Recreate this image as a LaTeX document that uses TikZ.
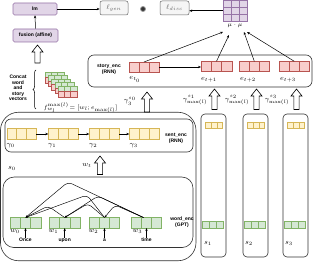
\documentclass[tikz,border=0pt]{standalone}
\usepackage{fontspec}
\usepackage{amsmath}
\newfontfamily\labfont{Liberation Sans}
\usetikzlibrary{calc,arrows.meta,decorations.pathreplacing}
\definecolor{purF}{HTML}{E1D5E7}\definecolor{purD}{HTML}{9673A6}
\definecolor{grayF}{HTML}{F5F5F5}\definecolor{grayD}{HTML}{666666}
\definecolor{redF}{HTML}{F8CECC}\definecolor{redD}{HTML}{B85450}
\definecolor{yelF}{HTML}{FFF2CC}\definecolor{yelD}{HTML}{D6B656}
\definecolor{grnF}{HTML}{D5E8D4}\definecolor{grnD}{HTML}{82B366}
\definecolor{lineD}{HTML}{333333}
% three-cell strip: name, centre, width, height, fill, draw
\newcommand\trio[6]{%
  \node[draw=#6, fill=#5, line width=0.5pt, minimum width=#3pt, minimum height=#4pt, inner sep=0, outer sep=0] (#1) at (#2) {};
  \draw[#6, line width=0.5pt] ($(#1.north west)!1/3!(#1.north east)$) -- ($(#1.south west)!1/3!(#1.south east)$)
    ($(#1.north west)!2/3!(#1.north east)$) -- ($(#1.south west)!2/3!(#1.south east)$);
}
% hollow block arrow pointing up, from #1 (bottom) to #2 (tip)
\newcommand\blockup[2]{%
  \draw[hollowarr] let \p1=(#1), \p2=(#2) in
   (\x1-2.6pt,\y1) -- (\x1-2.6pt,\y2-7pt) -- (\x1-5.5pt,\y2-7pt) -- (\x1,\y2) -- (\x1+5.5pt,\y2-7pt) -- (\x1+2.6pt,\y2-7pt) -- (\x1+2.6pt,\y1) -- cycle;
}
\begin{document}
\begin{tikzpicture}[x=1pt,y=-1pt,
  lab/.style={font=\labfont\bfseries\fontsize{5}{6}\selectfont, align=center, inner sep=0},
  mlab/.style={font=\fontsize{6.8}{7}\selectfont, inner sep=0},
  cont/.style={draw=lineD, line width=0.6pt, fill=white, inner sep=0},
  arr/.style={draw=black, line width=0.5pt, -{Stealth[length=3pt,width=2.4pt]}},
  attn/.style={draw=black, line width=0.45pt, rounded corners=4pt, -{Stealth[length=2.5pt,width=2.2pt]}},
  hollowarr/.style={draw=black, line width=0.6pt, fill=white},
  lossbox/.style={draw=grayD, fill=grayF, rounded corners=2pt, line width=0.5pt, minimum width=28pt, minimum height=14pt, inner sep=0, font=\fontsize{6.8}{7}\selectfont},
  purbox/.style={draw=purD, fill=purF, rounded corners=1.5pt, line width=0.6pt, inner sep=0, font=\labfont\bfseries\fontsize{5}{6}\selectfont},
  wtext/.style={lab, text height=3.6pt, text depth=0.8pt},
]
\useasboundingbox (0,0) rectangle (314,262);

% ---------- top row ----------
\node[purbox, minimum width=44pt, minimum height=12pt] (lm) at (35,9) {lm};
\node[purbox, minimum width=45pt, minimum height=13pt] (fusion) at (35.5,35.5) {fusion (affine)};
\node[lossbox] (lgen) at (114,8) {\color{grayD}$\ell_{gen}$};
\node[circle, fill=black!80, draw=black!40, line width=0.8pt, minimum size=5pt, inner sep=0] (dot) at (143,9) {};
\node[lossbox, minimum width=29pt] (ldisc) at (174.5,8) {\color{grayD}$\ell_{disc}$};
\node[draw=purD, fill=purF, line width=0.5pt, minimum width=24pt, minimum height=20.5pt, inner sep=0] (mumat) at (235,10.75) {};
\draw[purD, line width=0.5pt]
  ($(mumat.north west)!1/3!(mumat.north east)$) -- ($(mumat.south west)!1/3!(mumat.south east)$)
  ($(mumat.north west)!2/3!(mumat.north east)$) -- ($(mumat.south west)!2/3!(mumat.south east)$)
  ($(mumat.north west)!1/3!(mumat.south west)$) -- ($(mumat.north east)!1/3!(mumat.south east)$)
  ($(mumat.north west)!2/3!(mumat.south west)$) -- ($(mumat.north east)!2/3!(mumat.south east)$);
\node[mlab, font=\fontsize{6}{7}\selectfont] (mulab) at (235,26) {$\mu\cdot\mu$};

\draw[arr] (fusion.north) -- (lm.south);
\draw[arr] (lm.east) -- (lm.east -| lgen.west);
\draw[arr] (mumat.west) -- (mumat.west -| ldisc.east);

% ---------- concat stack ----------
\node[lab] (concat) at (18,88) {Concat\\[-0.5pt]word\\[-0.5pt]and\\[-0.5pt]story\\[-0.5pt]vectors};
\coordinate (brb) at (36,109);
\coordinate (brt) at (36,70);
\draw[decorate, decoration={brace, amplitude=3pt}, line width=0.5pt] (brb) -- (brt);
\foreach \i in {0,...,4} {
  \pgfmathsetmacro\tx{45+3.25*\i+9.5}
  \pgfmathsetmacro\ty{72+3.5*\i}
  \trio{tg\i}{\tx,\ty+2.75}{19}{5.5}{grnF}{grnD}
  \trio{tr\i}{\tx,\ty+8.25}{19}{5.5}{redF}{redD}
}
\node[mlab, anchor=west, font=\fontsize{6}{7}\selectfont] (formula) at (43.5,107.5) {$f^{\max(l)}_{w_l}\! = [w_l; e_{\max(l)}]$};
\coordinate (fab) at (37.5,63);
\coordinate (fat) at (37.5,45);
\blockup{fab}{fat}

% ---------- story encoder ----------
\node[cont, rounded corners=6pt, minimum width=224pt, minimum height=32pt] (storybox) at (200,71) {};
\node[lab] (storylab) at (109,69.5) {story\_enc\\(RNN)};
\trio{e0}{144,67}{30}{10}{redF}{redD}
\trio{e1}{216.5,66.5}{31}{10.5}{redF}{redD}
\trio{e2}{254.3,66.5}{30}{10.5}{redF}{redD}
\trio{e3}{294.2,66.5}{29.7}{10.5}{redF}{redD}
\node[mlab] (e0lab) at (135,79.5) {$e_{t_0}$};
\node[mlab, anchor=west] (e1lab) at (201,79.5) {$e_{t+1}$};
\node[mlab, anchor=west] (e2lab) at (240,79.5) {$e_{t+2}$};
\node[mlab, anchor=west] (e3lab) at (280,79.5) {$e_{t+3}$};
\draw[arr] (e0.east) -- (e0.east -| e1.west);
\draw[arr] (e0.north) -- ([shift={(-12,6)}]mulab.center);
\draw[arr] (e1.north) -- ([shift={(-6,9)}]mulab.center);
\draw[arr] (e2.north) -- ([shift={(9,6)}]mulab.center);
\draw[arr] (e3.north) -- ([shift={(12,6)}]mulab.center);

% ---------- sentence s0 ----------
\node[cont, rounded corners=18pt, minimum width=195.5pt, minimum height=148.5pt] (s0box) at (98.25,186.5) {};
\node[cont, rounded corners=6pt, minimum width=188pt, minimum height=33pt] (sentbox) at (99,135.5) {};
\node[cont, rounded corners=11pt, minimum width=190pt, minimum height=70.5pt] (wordbox) at (98,212.3) {};

\trio{yb0}{21.5,134}{29.5}{11.5}{yelF}{yelD}
\trio{yb1}{63.3,134}{30}{11.5}{yelF}{yelD}
\trio{yb2}{104.3,134}{30}{11.5}{yelF}{yelD}
\trio{yb3}{144.3,134}{30}{11.5}{yelF}{yelD}
\draw[arr] (yb0.east) -- (yb1.west);
\draw[arr] (yb1.east) -- (yb2.west);
\draw[arr] (yb2.east) -- (yb3.west);
\node[mlab, anchor=west] (g0lab) at (6.5,145.5) {$\gamma_0$};
\node[mlab, anchor=west] (g1lab) at (48,145.5) {$\gamma_1$};
\node[mlab, anchor=west] (g2lab) at (89,145.5) {$\gamma_2$};
\node[mlab, anchor=west] (g3lab) at (129.5,145.5) {$\gamma_3$};
\node[lab] (sentlab) at (176,138) {sent\_enc\\(RNN)};

\node[mlab] (s0lab) at (12,168) {$s_0$};
\node[mlab] (wtlab) at (87,165) {$w_t$};
\coordinate (wab) at (100,174.5);
\coordinate (wat) at (100,156);
\blockup{wab}{wat}

\trio{wb0}{25.5,222.8}{30.7}{10.5}{grnF}{grnD}
\trio{wb1}{64.7,222.8}{30.7}{10.5}{grnF}{grnD}
\trio{wb2}{104.5,222.8}{30}{10.5}{grnF}{grnD}
\trio{wb3}{146.5,222.8}{30}{10.5}{grnF}{grnD}
\node[lab] (wenclab) at (182,222) {word\_enc\\(GPT)};
\node[mlab] (w0lab) at (15,231) {$w_0$};
\node[mlab] (w1lab) at (53.5,231) {$w_1$};
\node[mlab] (w2lab) at (93.5,231) {$w_2$};
\node[mlab] (w3lab) at (137.5,231) {$w_3$};
\node[wtext] (once) at (25.5,240.5) {Once};
\node[wtext] (upon) at (64.7,240.5) {upon};
\node[wtext] (wa) at (104.5,240.5) {a};
\node[wtext] (time) at (146.5,240.5) {time};
\draw[arr] (once.north) -- (wb0.south);
\draw[arr] (upon.north) -- (wb1.south);
\draw[arr] (wa.north) -- (wb2.south);
\draw[arr] (time.north) -- (wb3.south);

% attention (GPT)
\draw[attn] ([xshift=-3pt]wb3.north) -- (68,182) -- (wb0.north);
\draw[attn] (wb2.north) -- (87,195) -- (wb0.north);
\draw[attn] (wb1.north) -- (48,206) -- (wb0.north);
\draw[attn] ([xshift=-3pt]wb3.north) -- (98,196) -- (wb1.north);
\draw[attn] (wb2.north) -- (88,203.5) -- (wb1.north);
\draw[attn] ([xshift=-3pt]wb3.north) -- (115,205) -- (wb2.north);

% sentence -> story
\coordinate (sab) at (147,112);
\coordinate (sat) at (147,92);
\blockup{sab}{sat}
\node[mlab] (gs0lab) at (130,101) {$\gamma_3^{s_0}$};

% ---------- sentences s1..s3 ----------
\foreach \k/\cx/\lx in {1/213.5/208, 2/255.5/249, 3/295.5/289} {
  \node[cont, rounded corners=4pt, minimum width=25pt, minimum height=143pt] (sbox\k) at (\cx,185.5) {};
  \trio{sy\k}{\cx+0.5,125}{17}{6}{yelF}{yelD}
  \trio{sg\k}{\cx-0.5,225}{21}{7}{grnF}{grnD}
  \node[mlab] (slab\k) at (\lx,243) {$s_{\k}$};
  \coordinate (sa\k b) at (\cx+1,109.5);
  \coordinate (sa\k t) at (\cx+1,89);
  \blockup{sa\k b}{sa\k t}
  \node[mlab, anchor=east] (gl\k) at (\cx-6,100) {$\gamma^{s_{\k}}_{\max(l)}$};
}
\end{tikzpicture}
\end{document}
